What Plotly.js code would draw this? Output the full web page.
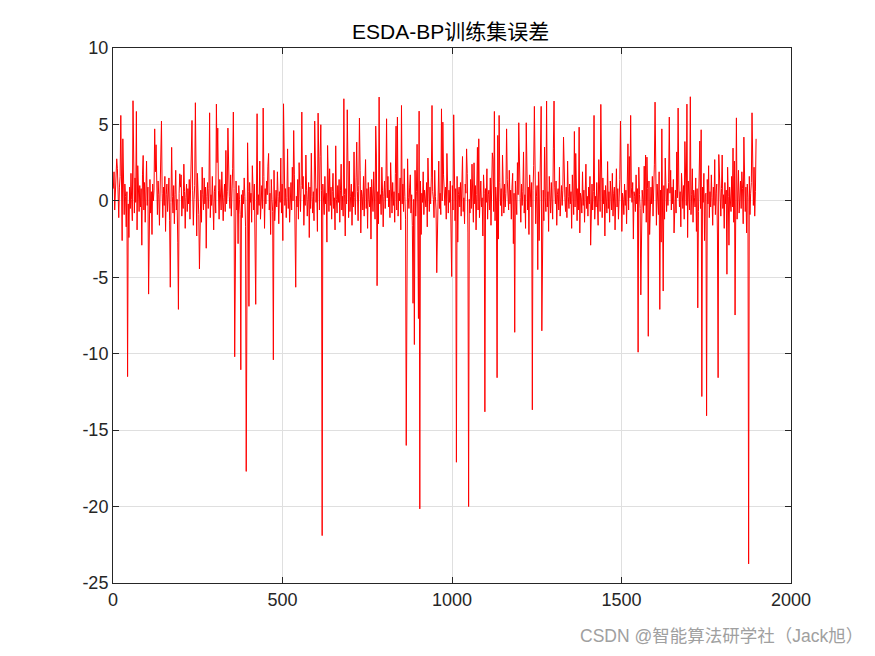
<!DOCTYPE html>
<html><head><meta charset="utf-8">
<script src="https://cdn.plot.ly/plotly-3.0.1.min.js"></script>
<style>html,body{margin:0;padding:0;background:#fff;}#chart{width:875px;height:656px;}</style>
</head><body><div id="chart"></div>
<script>
// Sample positions are every 2nd training-sample index (1,3,5,...)
const sampleStep = 2;
// background error band
const baseErr = [
0.8,1.9,-0.6,0.4,1.2,-0.3,2.1,0.5,-1.1,0.9,1.6,-0.4,0.2,-2.6,1.4,0.7,-0.9,1.1,0.3,-1.7,
0.6,1.3,-0.2,-2.4,0.9,-0.5,1.8,0.1,-1.3,3.2,0.4,-0.8,1.5,-0.1,0.6,-1.9,2.3,0.2,-0.7,1.0,
-0.4,0.8,-2.9,1.7,0.3,-0.6,1.2,-1.4,0.5,2.6,-0.3,0.9,-1.0,0.2,1.4,-0.8,0.6,-2.2,1.1,0.0,
0.7,-1.2,1.9,-0.5,0.3,-0.9,1.3,0.4,-1.6,0.8,2.8,-0.2,0.5,-1.1,0.9,-0.3,1.6,-2.0,0.4,1.1,
-0.7,0.2,1.5,-1.3,0.6,-0.1,3.5,0.3,-0.8,1.0,-1.5,0.4,2.0,-0.6,0.1,-2.7,1.2,0.5,-0.4,0.9,
1.7,-1.0,0.3,-0.5,2.4,0.6,-1.8,0.2,1.1,-0.7,0.8,-0.2,1.4,-1.2,0.5,3.0,-0.3,0.7,-1.6,0.1,
1.0,-0.4,0.6,-2.3,1.8,0.2,-0.9,1.3,-0.1,0.7,-1.4,2.2,0.4,-0.6,1.5,-0.2,0.9,-3.1,0.3,1.2,
-0.5,0.8,2.9,-1.1,0.4,-0.3,1.6,0.1,-1.9,0.6,1.0,-0.8,0.3,2.5,-0.4,0.7,-1.2,1.4,0.0,-0.6,
1.9,0.5,-1.3,0.2,1.1,-0.7,3.3,-0.2,0.6,-2.1,0.9,0.3,-0.5,1.7,-1.0,0.4,2.1,-0.3,0.8,-1.5,
0.2,1.3,-0.6,0.5,-2.8,1.0,0.1,-0.9,2.7,0.4,-1.1,0.7,-0.2,1.5,0.3,-1.7,0.9,-0.4,3.8,0.6,
-0.8,1.2,-0.1,0.5,-1.4,2.3,0.2,-0.6,1.1,-2.5,0.7,0.0,1.8,-0.9,0.4,-0.3,2.6,-1.2,0.6,1.0,
-0.5,0.3,1.6,-1.8,0.8,-0.2,1.3,0.4,-1.0,3.1,-0.6,0.5,-2.2,1.4,0.1,-0.7,0.9,2.0,-1.3,0.2,
0.7,-0.4,1.9,0.3,-1.5,0.6,-0.1,2.8,-0.8,1.1,-2.6,0.4,1.5,-0.3,0.8,-1.1,0.2,3.4,-0.5,0.9,
-1.4,0.5,1.2,-0.6,2.2,0.0,-0.9,1.7,-3.0,0.6,0.3,-0.4,1.4,-1.2,2.5,0.2,-0.7,1.0,-0.2,0.8,
1.6,-1.6,0.4,-0.3,3.0,0.7,-1.0,0.1,1.2,-2.4,0.9,-0.5,1.9,0.3,-0.8,0.6,-1.3,2.3,0.5,-0.1,
0.8,-2.0,1.5,0.2,-0.6,2.9,-0.4,0.7,-1.5,1.1,0.0,-0.9,1.6,-0.2,0.5,-2.7,1.3,0.4,-0.7,2.1,
-0.3,0.9,-1.2,0.6,1.8,-0.5,0.2,-1.9,3.6,0.1,-0.8,1.0,-0.1,1.4,-1.4,0.7,2.4,-0.6,0.3,-1.0,
1.2,0.4,-2.3,0.8,-0.2,1.7,0.5,-1.1,2.6,-0.7,0.3,1.1,-1.6,0.6,-0.4,3.2,0.2,-0.9,1.5,-0.3,
0.6,-1.3,1.0,-0.1,2.0,-2.1,0.7,0.3,-0.6,1.6,-1.0,0.4,2.7,-0.5,0.8,-1.8,1.2,0.1,-0.4,0.9,
-2.5,1.4,0.2,-0.7,1.9,0.5,-1.2,0.8,3.0,-0.3,0.6,-1.5,1.1,-0.2,0.4,-0.9,2.2,0.7,-1.7,0.3,
1.3,-0.5,0.9,-2.9,0.2,1.6,-0.4,0.7,-1.1,2.5,0.1,-0.8,1.2,-0.3,0.6,-1.4,1.8,0.4,-0.6,3.3,
-1.0,0.5,0.0,1.5,-1.9,0.8,-0.2,1.1,-0.7,2.1,0.3,-1.2,0.6,-2.6,1.4,0.2,-0.5,0.9,1.7,-0.8,
0.4,-1.6,2.4,0.1,-0.3,1.0,-1.0,0.6,3.7,-0.6,0.8,-1.3,0.3,1.3,-2.2,0.5,-0.1,1.9,-0.9,0.7,
0.2,-0.4,1.2,-1.7,2.8,0.4,-0.7,0.9,-0.2,1.5,-2.4,0.6,0.1,-1.1,2.0,0.3,-0.6,1.1,-1.4,0.8,
2.6,-0.5,0.5,-0.9,1.4,0.0,-2.0,1.7,0.4,-0.3,0.9,-1.2,3.1,0.2,-0.8,0.7,-0.1,1.3,-1.8,0.5,
1.0,-0.6,0.3,2.2,-1.3,0.8,-0.2,1.6,-2.7,0.4,0.9,-0.4,1.2,-1.0,0.6,2.9,-0.7,0.2,-1.5,1.1,
0.5,-0.3,1.8,-2.1,0.7,0.1,-0.8,1.4,-0.5,2.4,0.3,-1.4,0.8,-0.2,1.0,-1.9,0.4,3.5,-0.6,0.9,
-1.1,0.6,1.3,-0.4,0.2,-2.3,1.7,0.5,-0.9,0.8,-0.1,2.1,-1.2,0.4,0.7,-0.6,1.5,-1.6,0.3,1.0,
2.7,-0.7,0.4,-1.3,0.9,0.0,-0.5,1.6,-2.5,0.6,1.2,-0.3,0.8,-1.0,3.0,0.2,-0.8,1.1,-0.4,0.5,
-1.7,1.4,0.3,-0.6,2.0,-0.2,0.7,-1.2,0.9,1.8,-2.8,0.5,-0.4,1.3,0.1,-0.9,2.5,0.4,-0.5,0.8,
0.2,-1.4,1.1,-0.3,0.6,3.2,-0.8,0.4,-1.8,1.5,0.0,-0.6,0.9,-2.2,1.7,0.3,-0.4,1.2,-1.1,0.7,
2.3,-0.5,0.8,-1.5,0.3,1.0,-0.2,1.9,-2.6,0.5,0.6,-0.9,1.4,-0.1,0.7,-1.3,2.8,0.2,-0.7,1.1,
-0.4,0.6,-2.0,1.6,0.3,-0.8,1.2,0.1,-1.2,3.4,-0.5,0.9,-0.2,1.3,-1.6,0.4,0.8,-0.6,2.2,-1.0,
0.5,1.0,-0.3,0.7,-2.4,1.5,0.2,-0.7,0.9,-1.1,2.6,0.3,-0.5,1.1,-0.2,0.6,-1.8,1.7,0.4,-0.9,
1.3,-0.4,3.1,0.1,-1.3,0.8,-0.6,1.4,-2.1,0.5,0.2,-0.8,1.9,-0.3,0.7,-1.4,1.0,2.4,-0.5,0.3,
-1.0,0.9,-0.2,1.6,-2.9,0.4,1.1,-0.6,0.6,2.0,-1.2,0.3,-0.4,1.2,0.0,-1.6,2.7,0.5,-0.7,0.8,
0.3,-1.1,1.5,-0.2,0.7,-2.3,1.0,0.4,-0.8,3.3,-0.5,0.6,-1.4,1.3,0.2,-0.6,1.8,-1.0,0.5,0.9,
-1.9,0.6,2.1,-0.4,0.8,-1.2,0.3,1.4,-0.7,2.6,-2.0,0.5,0.1,-0.9,1.1,-0.3,0.7,-1.5,1.6,0.4,
-0.6,2.9,0.2,-1.3,0.9,-0.1,1.2,-2.5,0.6,0.3,-0.7,1.7,-0.2,0.8,-1.1,2.2,0.4,-0.5,1.0,-1.7,
0.7,0.1,-0.8,1.5,-0.3,3.0,-1.4,0.5,0.8,-0.6,1.3,-2.2,0.4,0.9,-0.2,1.6,-1.0,0.3,2.4,-0.5,
0.6,-1.6,1.1,0.2,-0.9,1.9,-0.4,0.7,-2.7,1.4,0.3,-0.5,1.0,-1.2,2.8,0.1,-0.7,0.8,-0.3,1.2,
-1.5,0.5,2.0,-0.6,0.9,-0.2,1.4,-2.1,0.4,0.7,-0.8,3.2,0.2,-1.0,1.1,-0.4,0.6,-1.7,1.8,0.3,
-0.5,1.0,-1.2,0.6,2.5,-0.3,0.8,-2.4,1.3,0.0,-0.6,1.6,-0.9,0.4,2.1,-1.4,0.7,0.2,-0.4,1.5,
-2.0,0.8,0.3,-0.7,1.2,3.6,-0.5,0.6,-1.3,0.9,-0.1,1.8,-2.6,0.4,0.5,-0.8,1.4,-0.2,2.3,-1.1,
0.6,-0.4,1.7,0.2,-1.6,0.9,-0.3,2.7,-0.9,0.5,1.1,-2.3,0.3,-0.6,1.5,0.1,-1.0,0.8,3.0,-0.5,
0.4,-1.8,1.2,-0.2,0.7,-1.1,2.2,0.3,-2.9,0.9,0.2,-0.7,1.6,-0.4,0.8,-1.4,2.6,0.5,-0.6,1.0,
-1.2,0.6,2.0,-0.8,0.4,1.3,-0.5,1.9,0.8,-1.5,0.3,2.4,-0.7,0.9,-2.1,1.1,0.2,-0.4,1.6,-0.9,
0.5,1.2,-2.8,0.7,-0.3,2.2,-1.0,0.6,1.4
];
// large error spikes: sample index and value
const spikeIdx = [10,22,29,43,59,69,88,104,123,126,142,169,193,196,232,243,254,284,304,309,339,355,358,376,392,393,400,420,421,424,442,457,473,502,532,539,557,585,595,604,612,617,632,681,691,718,726,775,778,784,806,835,839,850,864,868,885,888,891,900,903,904,940,955,969,973,998,1005,1013,1042,1048,1065,1079,1097,1118,1125,1132,1134,1139,1160,1184,1196,1218,1237,1242,1253,1263,1265,1273,1279,1300,1329,1361,1375,1419,1438,1459,1497,1518,1527,1548,1557,1566,1574,1579,1598,1612,1619,1623,1641,1667,1686,1692,1703,1724,1730,1734,1737,1750,1784,1787,1810,1829,1834,1838,1860,1875,1885,1897];
const spikeVal = [2.75,5.59,4.06,-11.5,6.55,5.85,2.97,-6.1,4.71,3.67,5.22,-5.65,-7.1,1.77,5.26,6.42,-4.45,5.76,6.33,4.76,4.76,5.81,-10.2,-11.05,5.85,-17.7,-6.9,4.93,-6.77,5.7,6.07,2.27,-10.4,6.35,4.6,-5.65,5.81,3.12,5.22,5.74,4.98,-21.9,3.62,6.68,5.96,3.84,5.42,4.89,-5.55,6.79,5.37,4.89,5.48,6.24,-16.0,2.75,-6.7,-9.4,2.0,-7.7,5.87,-20.15,6.24,-4.7,6.02,5.15,-4.95,5.63,-17.1,3.4,-20.0,2.49,4.06,-13.8,3.14,5.85,-11.57,4.28,5.59,4.71,-8.6,5.11,5.11,-13.67,6.18,-4.5,6.18,-8.5,3.52,6.53,6.53,4.17,4.54,4.82,5.59,6.31,2.57,5.22,3.73,5.59,-9.9,-6.15,2.27,2.86,-8.86,6.46,-7.1,4.71,-5.9,5.48,6.07,3.88,6.33,6.81,-7.0,3.91,4.65,-12.8,-14.06,-11.57,3.03,-4.8,3.45,-7.47,5.43,4.17,-23.75,5.76,4.06];

const xs = [], ys = [];
for (let i = 0; i < baseErr.length; i++) { xs.push(1 + sampleStep * i); ys.push(baseErr[i]); }
for (let k = 0; k < spikeIdx.length; k++) {
  const i = Math.round((spikeIdx[k] - 1) / sampleStep);
  if (i >= 0 && i < ys.length) ys[i] = spikeVal[k];
}

const yTicks = [-25,-20,-15,-10,-5,0,5,10];
const yTickText = ['-25','-20','-15','-10','-5','0','5','10'];
const xTicks = [0,500,1000,1500,2000];

const axisCommon = {
  showline: true, mirror: 'ticks', linecolor: '#262626', linewidth: 1,
  ticks: 'inside', ticklen: 6, tickcolor: '#262626',
  showgrid: true, gridcolor: '#dfdfdf', gridwidth: 1, zeroline: false,
  tickfont: {family: 'Liberation Sans, Arial, sans-serif', size: 18, color: '#262626'}
};

Plotly.newPlot('chart', [{
  x: xs, y: ys, type: 'scatter', mode: 'lines',
  line: {color: '#ff0000', width: 1.0}, hoverinfo: 'skip'
}], {
  width: 875, height: 656,
  margin: {l: 113, r: 84, t: 48, b: 73},
  paper_bgcolor: '#ffffff', plot_bgcolor: '#ffffff',
  showlegend: false,
  title: {text: 'ESDA-BP训练集误差', x: 0.515, xanchor: 'center', y: 0.951, yanchor: 'middle',
    font: {family: 'Liberation Sans, "Noto Sans CJK SC", sans-serif', size: 21, color: '#000000'}},
  xaxis: Object.assign({}, axisCommon, {range: [0, 2000], tickvals: xTicks, ticktext: xTicks.map(String)}),
  yaxis: Object.assign({}, axisCommon, {range: [-25, 10], tickvals: yTicks, ticktext: yTickText}),
  annotations: [{
    text: 'CSDN @智能算法研学社（Jack旭）', xref: 'paper', yref: 'paper',
    x: 1.109, y: -0.099, xanchor: 'right', yanchor: 'middle', showarrow: false,
    font: {family: 'Liberation Sans, "Noto Sans CJK SC", sans-serif', size: 17.5, color: '#a0a0a0'}
  }]
}, {displayModeBar: false, staticPlot: true});
</script>
</body></html>
